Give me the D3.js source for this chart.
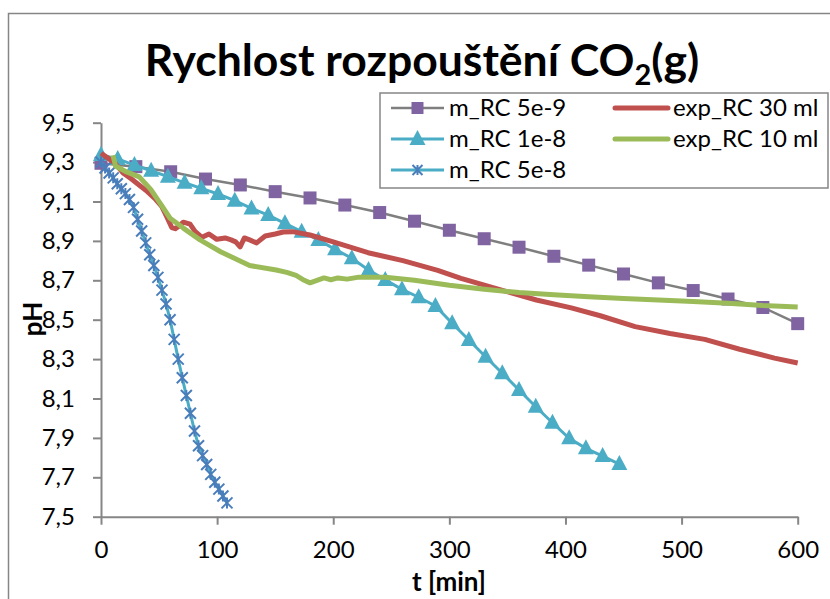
<!DOCTYPE html>
<html>
<head>
<meta charset="utf-8">
<script src="https://cdn.jsdelivr.net/npm/d3@7"></script>
<style>
  html, body { margin: 0; padding: 0; background: #fff; }
  svg { display: block; font-family: Lato, "Open Sans", sans-serif; }
</style>
</head>
<body>
<svg id="chart" width="830" height="599"></svg>
<script>
// Axis ticks
const xTicks = [0, 100, 200, 300, 400, 500, 600];
const yTicks = [7.5, 7.7, 7.9, 8.1, 8.3, 8.5, 8.7, 8.9, 9.1, 9.3, 9.5];

// Model m_RC 5e-9
const tRC5e9 = [0, 30, 60, 90, 120, 150, 180, 210, 240, 270, 300, 330, 360, 390, 420, 450, 480, 510, 540, 570, 600];
const pHRC5e9 = [9.294, 9.277, 9.251, 9.214, 9.184, 9.150, 9.118, 9.082, 9.044, 9.000, 8.954, 8.911, 8.868, 8.822, 8.777, 8.732, 8.687, 8.648, 8.605, 8.562, 8.480];

// Model m_RC 1e-8
const tRC1e8 = [0, 14.4, 28.8, 43.2, 57.6, 72, 86.4, 100.8, 115.2, 129.6, 144, 158.4, 172.8, 187.2, 201.6, 216,
                230.4, 244.8, 259.2, 273.6, 288, 302.4, 316.8, 331.2, 345.6, 360, 374.4, 388.8, 403.2, 417.6, 432, 446.4];
const pHRC1e8 = [9.336, 9.316, 9.285, 9.256, 9.226, 9.195, 9.167, 9.138, 9.104, 9.065, 9.031, 8.989, 8.947, 8.905, 8.857, 8.812,
                 8.752, 8.702, 8.654, 8.614, 8.570, 8.482, 8.397, 8.312, 8.228, 8.143, 8.058, 7.977, 7.898, 7.847, 7.808, 7.767];

// Model m_RC 5e-8
const tRC5e8 = [0, 3.5, 7, 10.5, 14, 17.5, 21, 24.5, 28, 31.5, 35, 38.5, 42, 45.5, 49, 52.5,
                56, 59.5, 63, 66.5, 70, 73.5, 77, 80.5, 84, 87.5, 91, 94.5, 98, 101.5, 105, 108.5];
const pHRC5e8 = [9.30, 9.27, 9.245, 9.22, 9.19, 9.165, 9.14, 9.11, 9.07, 9.01, 8.95, 8.89, 8.83, 8.775, 8.715, 8.65,
                 8.58, 8.50, 8.40, 8.30, 8.205, 8.115, 8.025, 7.935, 7.86, 7.81, 7.765, 7.715, 7.675, 7.64, 7.605, 7.57];

// Measured exp_RC 30 ml
const tExp30 = [0, 6, 12, 19, 26, 33.6, 40, 47.2, 52.3, 56.6, 60.9, 64, 67, 70.9, 76.7, 81, 87, 93, 99.7, 106.9,
                112, 116, 119.8, 123.5, 128, 134, 141.4, 150, 157, 165, 180, 200, 230, 260, 290, 310, 345, 375,
                405, 430, 460, 490, 520, 550, 580, 600];
const pHExp30 = [9.345, 9.32, 9.295, 9.245, 9.215, 9.18, 9.15, 9.11, 9.075, 9.023, 8.968, 8.962, 8.975, 8.995, 8.985, 8.948,
                 8.918, 8.935, 8.908, 8.915, 8.905, 8.895, 8.87, 8.915, 8.905, 8.89, 8.925, 8.935, 8.945, 8.947, 8.93, 8.895,
                 8.84, 8.80, 8.75, 8.71, 8.65, 8.60, 8.56, 8.52, 8.465, 8.43, 8.40, 8.35, 8.305, 8.28];

// Measured exp_RC 10 ml
const tExp10 = [10.3, 12.5, 22, 33, 43, 51, 59.5, 70.9, 85.3, 103, 128, 150.9, 160, 168, 175, 180, 186, 192, 198, 204,
                212, 222, 245, 270, 300, 330, 360, 390, 420, 450, 480, 510, 540, 570, 600];
const pHExp10 = [9.335, 9.28, 9.25, 9.225, 9.16, 9.09, 9.015, 8.965, 8.905, 8.845, 8.775, 8.752, 8.74, 8.725, 8.70, 8.687,
                 8.70, 8.712, 8.703, 8.712, 8.706, 8.716, 8.716, 8.70, 8.675, 8.655, 8.638, 8.627, 8.617, 8.608, 8.60,
                 8.592, 8.583, 8.572, 8.565];

const seriesNames = ["m_RC 5e-9", "m_RC 1e-8", "m_RC 5e-8", "exp_RC 30 ml", "exp_RC 10 ml"];

const svg = d3.select("#chart");
const gray = "#868686";

// outer chart frame
svg.append("path")
  .attr("d", "M8.5,599 L8.5,13.5 L830,13.5")
  .attr("fill", "none").attr("stroke", gray).attr("stroke-width", 1.5);

// title with subscript
const title = svg.append("text")
  .attr("x", 422).attr("y", 76)
  .attr("text-anchor", "middle")
  .attr("font-weight", 700).attr("font-size", 44.5).attr("fill", "#000");
title.append("tspan").text("Rychlost rozpouštění CO");
title.append("tspan").attr("font-size", 29).attr("dy", 9).text("2");
title.append("tspan").attr("dy", -9).text("(g)");

const x = d3.scaleLinear().domain([0, 600]).range([101, 797.7]);
const y = d3.scaleLinear().domain([7.5, 9.5]).range([516.7, 122.7]);

const fmt = d => d3.format(".1f")(d).replace(".", ",");

const yAxis = svg.append("g").attr("transform", `translate(${x(0)},0)`)
  .call(d3.axisLeft(y).tickValues(yTicks).tickFormat(fmt).tickSize(8).tickPadding(18).tickSizeOuter(0));
const xAxis = svg.append("g").attr("transform", `translate(0,${y(7.5)})`)
  .call(d3.axisBottom(x).tickValues(xTicks).tickFormat(d3.format("d")).tickSize(8).tickPadding(16).tickSizeOuter(0));
[xAxis, yAxis].forEach(g => {
  g.select(".domain").attr("stroke", gray).attr("stroke-width", 2);
  g.selectAll(".tick line").attr("stroke", gray).attr("stroke-width", 2);
  g.selectAll(".tick text").attr("font-size", 24).attr("fill", "#000")
    .attr("font-family", "Lato, 'Open Sans', sans-serif");
});

// axis titles
svg.append("text").attr("x", 449).attr("y", 591).attr("text-anchor", "middle")
  .attr("font-weight", 700).attr("font-size", 26).text("t [min]");
svg.append("text").attr("transform", "translate(42,319) rotate(-90)").attr("text-anchor", "middle")
  .attr("font-weight", 700).attr("font-size", 26).text("pH");

const line = d3.line().x(d => x(d[0])).y(d => y(d[1]));
const zip = (a, b) => a.map((v, i) => [v, b[i]]);

const plot = svg.append("g");

// marker shapes
const sq = 13;
const triPath = "M0,-9 L8,6 L-8,6 Z";
const starPath = (s) => `M${-s},${-s}L${s},${s}M${-s},${s}L${s},${-s}M0,${-s}L0,${s}`;

// m_RC 5e-9
const d1 = zip(tRC5e9, pHRC5e9);
plot.append("path").attr("d", line(d1)).attr("fill", "none").attr("stroke", "#7f7f7f").attr("stroke-width", 2.5);
plot.selectAll(".sq").data(d1).join("rect")
  .attr("x", d => x(d[0]) - sq / 2).attr("y", d => y(d[1]) - sq / 2)
  .attr("width", sq).attr("height", sq).attr("fill", "#8064a2");

// m_RC 1e-8
const d2 = zip(tRC1e8, pHRC1e8);
plot.append("path").attr("d", line(d2)).attr("fill", "none").attr("stroke", "#4bacc6").attr("stroke-width", 3);
plot.selectAll(".tri").data(d2).join("path")
  .attr("transform", d => `translate(${x(d[0])},${y(d[1])})`)
  .attr("d", triPath).attr("fill", "#4bacc6");

// m_RC 5e-8
const d3s = zip(tRC5e8, pHRC5e8);
plot.append("path").attr("d", line(d3s)).attr("fill", "none").attr("stroke", "#4bacc6").attr("stroke-width", 3);
plot.selectAll(".star").data(d3s).join("path")
  .attr("transform", d => `translate(${x(d[0])},${y(d[1])})`)
  .attr("d", starPath(5.5)).attr("fill", "none").attr("stroke", "#4a7ebb").attr("stroke-width", 2);

// measured series
plot.append("path").attr("d", line(zip(tExp30, pHExp30))).attr("fill", "none")
  .attr("stroke", "#c0504d").attr("stroke-width", 5).attr("stroke-linejoin", "round");
plot.append("path").attr("d", line(zip(tExp10, pHExp10))).attr("fill", "none")
  .attr("stroke", "#9bbb59").attr("stroke-width", 5).attr("stroke-linejoin", "round");

// legend
const lg = svg.append("g");
lg.append("rect").attr("x", 380).attr("y", 93).attr("width", 448).attr("height", 95)
  .attr("fill", "#fff").attr("stroke", gray).attr("stroke-width", 1.5);
const rowsY = [108, 139, 170];
const legendItems = [
  { name: seriesNames[0], lx: 391, row: 0, stroke: "#7f7f7f", w: 2.5, marker: "sq" },
  { name: seriesNames[1], lx: 391, row: 1, stroke: "#4bacc6", w: 3, marker: "tri" },
  { name: seriesNames[2], lx: 391, row: 2, stroke: "#4bacc6", w: 3, marker: "star" },
  { name: seriesNames[3], lx: 615, row: 0, stroke: "#c0504d", w: 5 },
  { name: seriesNames[4], lx: 615, row: 1, stroke: "#9bbb59", w: 5 }
];
legendItems.forEach(it => {
  const cy = rowsY[it.row];
  const g = lg.append("g");
  g.append("line").attr("x1", it.lx).attr("x2", it.lx + 53).attr("y1", cy).attr("y2", cy)
    .attr("stroke", it.stroke).attr("stroke-width", it.w).attr("stroke-linecap", it.marker ? "butt" : "round");
  const mx = it.lx + 26.5;
  if (it.marker === "sq") g.append("rect").attr("x", mx - 6).attr("y", cy - 6).attr("width", 12).attr("height", 12).attr("fill", "#8064a2");
  if (it.marker === "tri") g.append("path").attr("transform", `translate(${mx},${cy})`).attr("d", triPath).attr("fill", "#4bacc6");
  if (it.marker === "star") g.append("path").attr("transform", `translate(${mx},${cy})`).attr("d", starPath(5))
    .attr("fill", "none").attr("stroke", "#4a7ebb").attr("stroke-width", 2);
  g.append("text").attr("x", it.lx + 58).attr("y", cy).attr("dy", "0.35em")
    .attr("font-size", 24).attr("fill", "#000").text(it.name);
});
</script>
</body>
</html>
